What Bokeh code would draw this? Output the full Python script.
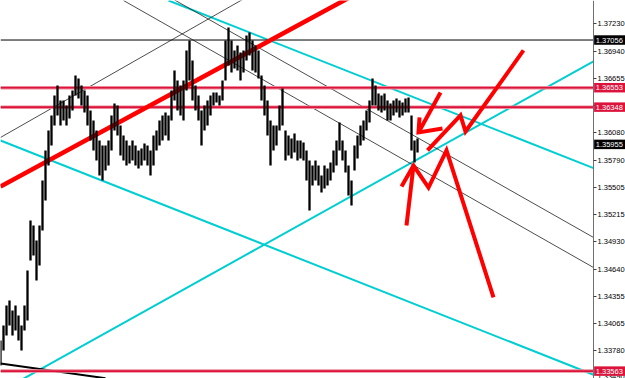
from bokeh.plotting import figure
from bokeh.models import Range1d, FixedTicker, PrintfTickFormatter, ColumnDataSource
from bokeh.core.properties import value
from bokeh.embed import file_html
from bokeh.resources import INLINE

# ---------------- data ----------------
bar_index = list(range(140))
highs = [1.33886, 1.34044, 1.34255, 1.34308, 1.34202, 1.34255, 1.34150, 1.34044, 1.34255, 1.34624,
         1.35152, 1.35099, 1.34941, 1.35099, 1.35574, 1.35891, 1.36101, 1.36260, 1.36471, 1.36576,
         1.36418, 1.36418, 1.36365, 1.36471, 1.36524, 1.36682, 1.36650, 1.36576, 1.36524, 1.36471,
         1.36313, 1.36207, 1.36101, 1.35996, 1.35943, 1.35943, 1.35996, 1.36260, 1.36386, 1.36365,
         1.36154, 1.36049, 1.35996, 1.35943, 1.35996, 1.35943, 1.35891, 1.35912, 1.35964, 1.35943,
         1.35891, 1.36049, 1.36101, 1.36207, 1.36260, 1.36291, 1.36260, 1.36524, 1.36735, 1.36629,
         1.36576, 1.36629, 1.36946, 1.37051, 1.36840, 1.36576, 1.36471, 1.36313, 1.36365, 1.36418,
         1.36471, 1.36502, 1.36502, 1.36471, 1.36629, 1.37051, 1.37188, 1.37051, 1.36946, 1.36998,
         1.36924, 1.36946, 1.37104, 1.37135, 1.37051, 1.36998, 1.36946, 1.36682, 1.36576, 1.36418,
         1.36207, 1.36154, 1.36154, 1.36365, 1.36545, 1.36101, 1.36049, 1.36017, 1.36070, 1.35996,
         1.35996, 1.35975, 1.35891, 1.35785, 1.35732, 1.35785, 1.35732, 1.35627, 1.35732, 1.35701,
         1.35764, 1.35891, 1.35996, 1.36186, 1.35996, 1.35891, 1.35732, 1.35574, 1.35943, 1.36049,
         1.36154, 1.36207, 1.36313, 1.36418, 1.36650, 1.36576, 1.36492, 1.36471, 1.36492, 1.36418,
         1.36386, 1.36418, 1.36439, 1.36418, 1.36397, 1.36439, 1.36450, 1.36260, 1.35996, 1.36017]
lows = [1.33622, 1.33781, 1.33939, 1.34044, 1.33939, 1.33991, 1.33886, 1.33781, 1.33991, 1.34097,
        1.34730, 1.34783, 1.34519, 1.34677, 1.35047, 1.35363, 1.35732, 1.35943, 1.36154, 1.36260,
        1.36154, 1.36207, 1.36154, 1.36228, 1.36313, 1.36471, 1.36439, 1.36365, 1.36291, 1.36154,
        1.35996, 1.35891, 1.35785, 1.35627, 1.35574, 1.35680, 1.35732, 1.35891, 1.36101, 1.36049,
        1.35838, 1.35785, 1.35732, 1.35753, 1.35785, 1.35732, 1.35701, 1.35732, 1.35785, 1.35732,
        1.35627, 1.35732, 1.35891, 1.35943, 1.35996, 1.36049, 1.35996, 1.36207, 1.36418, 1.36313,
        1.36260, 1.36207, 1.36524, 1.36629, 1.36418, 1.36313, 1.36207, 1.35943, 1.36101, 1.36154,
        1.36260, 1.36365, 1.36397, 1.36365, 1.36418, 1.36629, 1.36787, 1.36713, 1.36756, 1.36735,
        1.36629, 1.36713, 1.36840, 1.36893, 1.36735, 1.36713, 1.36650, 1.36418, 1.36260, 1.36049,
        1.35732, 1.35891, 1.35943, 1.36101, 1.36154, 1.35785, 1.35838, 1.35806, 1.35869, 1.35785,
        1.35806, 1.35785, 1.35574, 1.35258, 1.35521, 1.35574, 1.35521, 1.35447, 1.35490, 1.35521,
        1.35574, 1.35658, 1.35732, 1.35891, 1.35785, 1.35658, 1.35416, 1.35310, 1.35680, 1.35806,
        1.35943, 1.35996, 1.36101, 1.36186, 1.36365, 1.36365, 1.36313, 1.36291, 1.36313, 1.36207,
        1.36207, 1.36260, 1.36291, 1.36239, 1.36260, 1.36291, 1.36291, 1.35891, 1.35764, 1.35869]

price_ticks = [1.37230, 1.36940, 1.36655, 1.36365, 1.36080, 1.35790, 1.35505,
               1.35215, 1.34930, 1.34640, 1.34355, 1.34065, 1.33780, 1.33490]

# horizontal levels
black_level = 1.37056
red_levels = [1.36553, 1.36348, 1.33563]
current_price = 1.35955

# trend lines: (bar0, price0, bar1, price1)
red_trend = [0, 1.35511, 120, 1.37568]
black_up = [0, 1.36028, 100, 1.37832]
black_down_1 = [41, 1.37473, 197.67, 1.34656]
black_down_2 = [58, 1.37479, 197.67, 1.34973]
black_bottom = [0, 1.33643, 35, 1.33488]
cyan_down_1 = [56, 1.37473, 197.67, 1.35704]
cyan_down_2 = [0, 1.35996, 197.67, 1.33525]
cyan_up = [0, 1.33348, 197.67, 1.36831]

# hand-drawn red arrows (bar, price)
arrow_up_right_x = [142.33, 153.33, 155.0, 174.33]
arrow_up_right_y = [1.35891, 1.36260, 1.36091, 1.36946]
arrow_b_x = [146.67, 139.33]
arrow_b_y = [1.36502, 1.36081]
arrow_b_head_x = [139.67, 139.33, 147.33]
arrow_b_head_y = [1.36239, 1.36081, 1.36123]
arrow_c_x = [135.33, 137.67]
arrow_c_y = [1.35099, 1.35732]
arrow_c_head_x = [133.67, 137.67, 142.67, 148.67, 164.33]
arrow_c_head_y = [1.35511, 1.35732, 1.35500, 1.35891, 1.34340]

# ---------------- layout constants ----------------
y_bottom, y_top = 1.33485, 1.37473
x_start, x_end = 0, 208.33      # whole canvas width
axis_x = 197.67                 # price scale position
box_half = 0.00050              # half height of a price box

FONT = "Liberation Sans"
FONT_SIZE = "7.5px"

p = figure(width=625, height=378, output_backend="svg", toolbar_location=None,
           x_range=Range1d(x_start, x_end), y_range=Range1d(y_bottom, y_top),
           x_axis_location=None, y_axis_location="right",
           min_border_left=0, min_border_right=0, min_border_top=0, min_border_bottom=0)
p.outline_line_color = None
p.grid.visible = False
p.background_fill_color = "white"
p.border_fill_color = "white"

ax = p.yaxis[0]
ax.fixed_location = axis_x
ax.ticker = FixedTicker(ticks=price_ticks)
ax.formatter = PrintfTickFormatter(format="%.5f")
ax.major_label_text_font = FONT
ax.major_label_text_font_size = FONT_SIZE
ax.major_label_text_color = "black"
ax.major_tick_out = 3
ax.major_tick_in = 0
ax.minor_tick_out = 0
ax.minor_tick_in = 0
ax.major_label_standoff = 1
ax.axis_line_color = "#707070"
ax.major_tick_line_color = "#404040"

def seg(line, color, width):
    p.line([line[0], line[2]], [line[1], line[3]], line_color=color, line_width=width)

# cyan lines
for ln in (cyan_down_1, cyan_down_2, cyan_up):
    seg(ln, "#00CED1", 2)

# thin black lines
for ln in (black_up, black_down_1, black_down_2):
    seg(ln, "#202020", 0.8)
seg(black_bottom, "black", 2)

# horizontal black line
p.line([x_start, axis_x], [black_level, black_level], line_color="black", line_width=1)

# horizontal red levels
for lv in red_levels:
    p.line([x_start, axis_x], [lv, lv], line_color="#EE8898", line_width=3.5)
    p.line([x_start, axis_x], [lv, lv], line_color="#DC143C", line_width=1.6)

# thick red trend
seg(red_trend, "#FF0000", 4.5)

# price bars
src = ColumnDataSource(dict(x=bar_index, hi=highs, lo=lows))
p.segment(x0="x", y0="lo", x1="x", y1="hi", source=src, line_color="black", line_width=2.3)

# red arrows
arrow_kw = dict(line_color="#FF0000", line_width=4, line_join="miter")
p.line(arrow_up_right_x, arrow_up_right_y, **arrow_kw)
p.line(arrow_b_x, arrow_b_y, **arrow_kw)
p.line(arrow_b_head_x, arrow_b_head_y, **arrow_kw)
p.line(arrow_c_x, arrow_c_y, **arrow_kw)
p.line(arrow_c_head_x, arrow_c_head_y, **arrow_kw)

# white price-scale area (everything right of the axis)
p.quad(left=axis_x, right=x_end, bottom=y_bottom, top=y_top,
       fill_color="white", line_color=None)

# price boxes on the scale (drawn above the axis)
box_levels = [black_level] + red_levels + [current_price]
box_colors = ["black", "#DC143C", "#DC143C", "#DC143C", "black"]
box_text = ["%.5f" % v for v in box_levels]
bsrc = ColumnDataSource(dict(y=box_levels, c=box_colors, t=box_text,
                             top=[v + box_half for v in box_levels],
                             bot=[v - box_half for v in box_levels]))
rq = p.quad(left=axis_x + 0.2, right=x_end, bottom="bot", top="top", source=bsrc,
            fill_color="c", line_color=None)
rt = p.text(x=axis_x + 0.75, y="y", text="t", source=bsrc, text_color="white",
            text_font=value(FONT), text_font_size=FONT_SIZE, text_baseline="middle",
            text_align="left")
rq.level = "overlay"
rt.level = "overlay"

open("out.html", "w").write(file_html(p, INLINE))
